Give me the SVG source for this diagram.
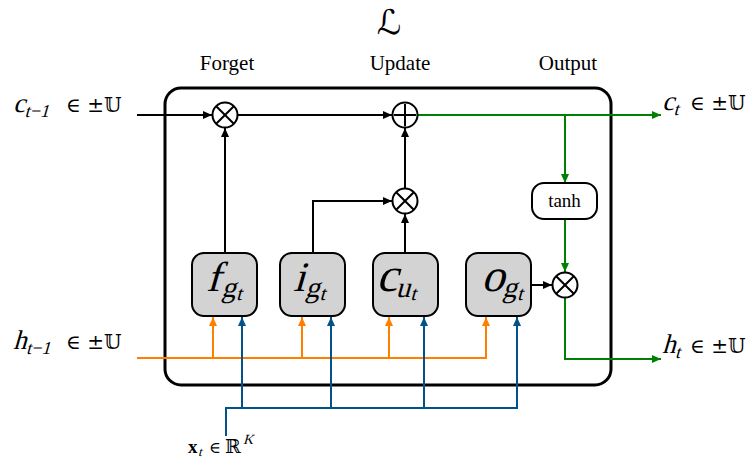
<svg xmlns="http://www.w3.org/2000/svg" width="754" height="465" viewBox="0 0 754 465">
<style>
.txt{font-family:"Liberation Serif","DejaVu Serif",serif;fill:#000}
.mi{font-family:"Liberation Serif","DejaVu Serif",serif;font-style:normal}
.sym{font-family:"DejaVu Serif","DejaVu Sans",serif;font-style:normal}
.gate{fill:#d3d3d3;stroke:#000;stroke-width:2}
.op{fill:#fff;stroke:#000;stroke-width:2}
.blk{fill:none;stroke:#000;stroke-width:2}
.grn{fill:none;stroke:#008000;stroke-width:2}
.org{fill:none;stroke:#ff8000;stroke-width:2}
.blu{fill:none;stroke:#005288;stroke-width:2}
</style>
<defs>
<marker id="ak" markerUnits="userSpaceOnUse" markerWidth="10" markerHeight="10" refX="9" refY="5" orient="auto"><path d="M0,1 L9,5 L0,9 Z" fill="#000"/></marker>
<marker id="ag" markerUnits="userSpaceOnUse" markerWidth="10" markerHeight="10" refX="9" refY="5" orient="auto"><path d="M0,1 L9,5 L0,9 Z" fill="#008000"/></marker>
<marker id="ao" markerUnits="userSpaceOnUse" markerWidth="10" markerHeight="10" refX="9" refY="5" orient="auto"><path d="M0,1 L9,5 L0,9 Z" fill="#ff8000"/></marker>
<marker id="ab" markerUnits="userSpaceOnUse" markerWidth="10" markerHeight="10" refX="9" refY="5" orient="auto"><path d="M0,1 L9,5 L0,9 Z" fill="#005288"/></marker>
</defs>
<rect width="754" height="465" fill="#fff"/>

<g id="title"><text class="sym" x="389" y="34" font-size="34" text-anchor="middle">ℒ</text></g>
<g id="sections" class="txt" font-size="21" text-anchor="middle">
<text x="227" y="70">Forget</text>
<text x="400" y="70">Update</text>
<text x="568" y="70">Output</text>
</g>

<g id="cell"><rect x="165" y="88" width="446" height="297" rx="16" fill="none" stroke="#000" stroke-width="3"/></g>

<g id="connectors">
<line class="blk" x1="137" y1="115" x2="212" y2="115" marker-end="url(#ak)"/>
<line class="blk" x1="238" y1="115" x2="392" y2="115" marker-end="url(#ak)"/>
<line class="blk" x1="225" y1="253" x2="225" y2="128" marker-end="url(#ak)"/>
<polyline class="blk" points="313,253 313,201 392,201" marker-end="url(#ak)"/>
<line class="blk" x1="405" y1="253" x2="405" y2="214" marker-end="url(#ak)"/>
<line class="blk" x1="405" y1="188" x2="405" y2="128" marker-end="url(#ak)"/>
<line class="blk" x1="531" y1="285" x2="552" y2="285" marker-end="url(#ak)"/>
<line class="grn" x1="418" y1="115" x2="661" y2="115" marker-end="url(#ag)"/>
<line class="grn" x1="565" y1="115" x2="565" y2="183" marker-end="url(#ag)"/>
<line class="grn" x1="565" y1="219" x2="565" y2="272" marker-end="url(#ag)"/>
<polyline class="grn" points="565,298 565,359 661,359" marker-end="url(#ag)"/>
<polyline class="org" points="137,358 486,358"/>
<line class="org" x1="213" y1="358" x2="213" y2="317" marker-end="url(#ao)"/>
<line class="org" x1="302" y1="358" x2="302" y2="317" marker-end="url(#ao)"/>
<line class="org" x1="389" y1="358" x2="389" y2="317" marker-end="url(#ao)"/>
<line class="org" x1="486" y1="359" x2="486" y2="317" marker-end="url(#ao)"/>
<polyline class="blu" points="226,436 226,408 517,408"/>
<line class="blu" x1="242" y1="408" x2="242" y2="317" marker-end="url(#ab)"/>
<line class="blu" x1="331" y1="408" x2="331" y2="317" marker-end="url(#ab)"/>
<line class="blu" x1="424" y1="408" x2="424" y2="317" marker-end="url(#ab)"/>
<line class="blu" x1="517" y1="409" x2="517" y2="317" marker-end="url(#ab)"/>
</g>

<g id="mult_forget"><circle class="op" cx="225" cy="115" r="12.5"/><path class="blk" d="M216.2,106.2 L233.8,123.8 M233.8,106.2 L216.2,123.8" stroke-width="1.5"/></g>
<g id="add_update"><circle class="op" cx="405" cy="115" r="12.5"/><path class="blk" d="M405,104 V126 M394,115 H416" stroke-width="1.5"/></g>
<g id="mult_update"><circle class="op" cx="405" cy="201" r="12.5"/><path class="blk" d="M396.2,192.2 L413.8,209.8 M413.8,192.2 L396.2,209.8" stroke-width="1.5"/></g>
<g id="mult_output"><circle class="op" cx="565" cy="285" r="12.5"/><path class="blk" d="M556.2,276.2 L573.8,293.8 M573.8,276.2 L556.2,293.8" stroke-width="1.5"/></g>
<g id="tanh"><rect x="532" y="183" width="65" height="36" rx="12" fill="#fff" stroke="#000" stroke-width="2"/><text class="txt" x="564.5" y="207" font-size="19" text-anchor="middle">tanh</text></g>

<g id="gate_f"><rect class="gate" x="192" y="253" width="65" height="63" rx="12"/>
<text class="mi" transform="translate(206,291) skewX(-16)" font-size="42">f<tspan font-size="29" dy="6" dx="3">g</tspan><tspan font-size="20" dy="3" dx="1">t</tspan></text></g>
<g id="gate_i"><rect class="gate" x="280" y="253" width="65" height="63" rx="12"/>
<text class="mi" transform="translate(293,291) skewX(-16)" font-size="42">i<tspan font-size="29" dy="6" dx="2">g</tspan><tspan font-size="20" dy="3" dx="1">t</tspan></text></g>
<g id="gate_c"><rect class="gate" x="373" y="253" width="65" height="63" rx="12"/>
<text class="mi" transform="translate(376,291) skewX(-16)" font-size="48">c<tspan font-size="29" dy="6">u</tspan><tspan font-size="20" dy="3" dx="1">t</tspan></text></g>
<g id="gate_o"><rect class="gate" x="466" y="253" width="65" height="63" rx="12"/>
<text class="mi" transform="translate(481,291) skewX(-16)" font-size="46">o<tspan font-size="29" dy="6">g</tspan><tspan font-size="20" dy="3" dx="1">t</tspan></text></g>

<g id="label_c_prev"><text class="mi" transform="translate(13,112) skewX(-16)" font-size="27">c<tspan font-size="18" dy="5" dx="1">t−1</tspan></text><text class="sym" x="66" y="112" font-size="20">∈ ±𝕌</text></g>
<g id="label_h_prev"><text class="mi" transform="translate(13,349) skewX(-16)" font-size="27">h<tspan font-size="18" dy="5" dx="1">t−1</tspan></text><text class="sym" x="66" y="349" font-size="20">∈ ±𝕌</text></g>
<g id="label_c_t"><text class="mi" transform="translate(662,110) skewX(-16)" font-size="27">c<tspan font-size="18" dy="5" dx="1">t</tspan></text><text class="sym" x="690" y="110" font-size="20">∈ ±𝕌</text></g>
<g id="label_h_t"><text class="mi" transform="translate(662,353) skewX(-16)" font-size="27">h<tspan font-size="18" dy="5" dx="1">t</tspan></text><text class="sym" x="690" y="353" font-size="20">∈ ±𝕌</text></g>
<g id="label_x"><text class="txt" x="188" y="453" font-size="19" font-weight="bold">x</text><text class="mi" transform="translate(198,456) skewX(-16)" font-size="13">t</text><text class="sym" x="209" y="453" font-size="16">∈</text><text class="sym" x="225" y="453" font-size="19">ℝ</text><text class="mi" transform="translate(243,444) skewX(-16)" font-size="14">K</text></g>
</svg>
